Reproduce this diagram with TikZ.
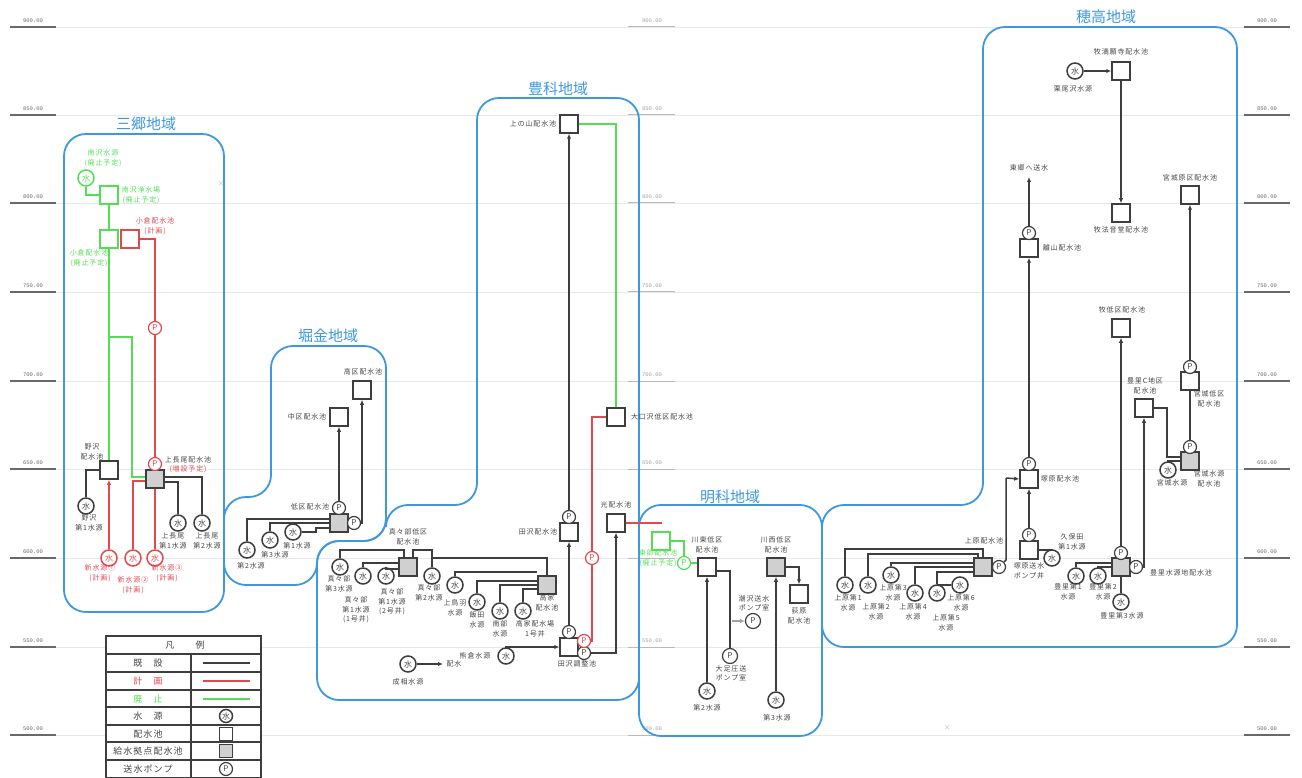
\documentclass[tikz,border=0pt]{standalone}
\usepackage{fontspec}
\usepackage{xcolor}
\usepackage{tikz}
\usetikzlibrary{arrows.meta,calc,positioning}
\newfontfamily\jpfont[LetterSpace=12]{Noto Sans CJK JP}
\newfontfamily\jptitle{Noto Sans CJK JP}
\setmonofont{Liberation Mono}
\definecolor{figInk}{RGB}{62,62,62}
\definecolor{figText}{RGB}{70,70,70}
\definecolor{figRed}{RGB}{226,72,78}
\definecolor{figGreen}{RGB}{84,222,84}
\definecolor{figBlue}{RGB}{62,152,222}
\definecolor{figGrid}{RGB}{232,232,232}
\definecolor{figHubBg}{RGB}{208,208,208}
\definecolor{figRule}{RGB}{105,105,105}

\begin{document}
\begin{tikzpicture}[
  x=1pt,y=-1pt,
  font=\jpfont\fontsize{7}{9.5}\selectfont,
  >={Latex[length=5pt,width=4.5pt]},
  lbl/.style={align=center,inner sep=0pt,text=figText},
  lblred/.style={lbl,text=figRed},
  lblgreen/.style={lbl,text=figGreen},
  regiontitle/.style={inner sep=0pt,font=\jptitle\fontsize{15}{17}\selectfont,text=figBlue},
  region/.style={draw=figBlue,line width=1.8pt,rounded corners=22pt},
  tank/.style={draw=figInk,line width=1.5pt,fill=white,minimum size=18pt,inner sep=0pt,rectangle},
  hubtank/.style={tank,fill=figHubBg},
  srcnode/.style={circle,draw=figInk,line width=1.5pt,fill=white,minimum size=16pt,inner sep=0pt,font=\jptitle\fontsize{8}{8}\selectfont,text=figText},
  pumpnode/.style={circle,draw=figInk,line width=1.2pt,fill=white,minimum size=13pt,inner sep=0pt,font=\jptitle\fontsize{8}{8}\selectfont,text=figText},
  pipe/.style={draw=figInk,fill=figInk,line width=1.5pt},
  flow/.style={pipe,fill=none,->},
  planpipe/.style={draw=figRed,line width=1.6pt},
  oldpipe/.style={draw=figGreen,line width=1.6pt},
  legtext/.style={inner sep=0pt,text=figText,font=\jpfont\fontsize{9}{10}\selectfont}
]
\useasboundingbox (0,0) rectangle (1302,778);

% elevation rules
\foreach \elev/\yy in {900/27,850/115,800/203,750/292,700/381,650/469,600/558,550/647,500/735}{
  \draw[figGrid,line width=0.6pt] (56,\yy) -- (1244,\yy);
  \draw[figRule,line width=1.2pt] (10,\yy) -- (56,\yy);
  \draw[figRule,line width=1.2pt] (1244,\yy) -- (1290,\yy);
  \draw[figGrid!80!black,line width=1pt] (628,\yy) -- (675,\yy);
  \node[inner sep=0pt,font=\ttfamily\fontsize{5.5}{6}\selectfont,text=figRule] (lvlL\elev) at (33,\yy-6.5) {\elev.00};
  \ifnum\elev=600\else
    \node[inner sep=0pt,font=\ttfamily\fontsize{5.5}{6}\selectfont,text=figGrid!70!black] (lvlC\elev) at (652,\yy-6.5) {\elev.00};
  \fi
  \node[inner sep=0pt,font=\ttfamily\fontsize{5.5}{6}\selectfont,text=figRule] (lvlR\elev) at (1267,\yy-6.5) {\elev.00};
}
\node[inner sep=0pt,text=figGrid!80!black] (markA) at (221,184) {×};
\node[inner sep=0pt,text=figGrid!80!black] (markB) at (947,728) {×};

% regions
\draw[region] (64,134) rectangle (224,612);
\draw[region] (224,565) -- (224,497) -- (271,497) -- (271,346) -- (386,346) -- (386,541) -- (317,541) -- (317,585) -- (224,585) -- cycle;
\draw[region] (317,590) -- (317,541) -- (386,541) -- (386,505) -- (477,505) -- (477,98) -- (639,98) -- (639,700) -- (317,700) -- cycle;
\draw[region] (639,505) rectangle (822,736);
\draw[region] (822,590) -- (822,505) -- (983,505) -- (983,27) -- (1237,27) -- (1237,647) -- (822,647) -- cycle;

\node[regiontitle] (titleMisato) at (146,124) {三郷地域};
\node[regiontitle] (titleHorikane) at (328,336) {堀金地域};
\node[regiontitle] (titleToyoshina) at (558,89) {豊科地域};
\node[regiontitle] (titleAkashina) at (730,497) {明科地域};
\node[regiontitle] (titleHotaka) at (1106,17) {穂高地域};

% Misato
\node[srcnode,draw=figGreen,text=figGreen] (srcMinami) at (86,178) {水};
\node[tank,draw=figGreen] (tankMinami) at (109,195) {};
\node[tank,draw=figGreen] (tankOgura) at (109,239) {};
\node[tank,draw=figRed] (tankOguraNew) at (130,239) {};
\node[pumpnode,draw=figRed,text=figRed] (pumpOgura) at (155,328) {P};
\node[tank] (tankNozawa) at (109,470) {};
\node[hubtank] (hubKaminagao) at (155,479) {};
\node[pumpnode,draw=figRed,text=figRed] (pumpKaminagao) at (155,464) {P};
\node[srcnode] (srcNozawa) at (86,506) {水};
\node[srcnode,draw=figRed,text=figRed] (srcNew1) at (109,558) {水};
\node[srcnode,draw=figRed,text=figRed] (srcNew2) at (133,558) {水};
\node[srcnode,draw=figRed,text=figRed] (srcNew3) at (155,558) {水};
\node[srcnode] (srcKami1) at (178,523) {水};
\node[srcnode] (srcKami2) at (202,523) {水};

\node[lblgreen] (lblMinami) at (103,158) {南沢水源\\(廃止予定)};
\node[lblgreen] (lblMinamiPlant) at (141,195) {南沢浄水場\\(廃止予定)};
\node[lblgreen] (lblOgura) at (89,258) {小倉配水池\\(廃止予定)};
\node[lblred] (lblOguraNew) at (155,226) {小倉配水池\\(計画)};
\node[lbl] (lblNozawa) at (92,452) {野沢\\配水池};
\node[lbl] (lblSrcNozawa) at (89,523) {野沢\\第1水源};
\node[lbl] (lblKaminagao) at (188,465) {上長尾配水池\\\textcolor{figRed}{(増設予定)}};
\node[lblred] (lblNew1) at (100,573) {新水源①\\(計画)};
\node[lblred] (lblNew2) at (133,585) {新水源②\\(計画)};
\node[lblred] (lblNew3) at (167,573) {新水源③\\(計画)};
\node[lbl] (lblKami1) at (173,541) {上長尾\\第1水源};
\node[lbl] (lblKami2) at (207,541) {上長尾\\第2水源};

\draw[oldpipe] (srcMinami.south) |- (tankMinami.west);
\draw[oldpipe] (tankMinami) -- (tankOgura);
\draw[oldpipe] (tankOgura) -- (tankNozawa);
\coordinate (ogBranch) at (109,337);
\coordinate (ogCorner) at (132,337);
\draw[oldpipe] (ogBranch) -- (ogCorner) |- ([yshift=2pt]hubKaminagao.west);
\draw[planpipe] (tankOguraNew.east) -| (pumpOgura.north);
\draw[planpipe] (pumpOgura) -- (pumpKaminagao);
\draw[planpipe,->] (srcNew1) -- (tankNozawa);
\draw[planpipe] (srcNew2.north) |- ([yshift=-2pt]hubKaminagao.west);
\draw[planpipe] (srcNew3) -- (hubKaminagao);
\draw[pipe,fill=none] (srcNozawa.north) |- (tankNozawa.west);
\draw[pipe,fill=none] ([yshift=-3pt]hubKaminagao.east) -| (srcKami1.north);
\draw[pipe,fill=none] ([yshift=2pt]hubKaminagao.east) -| (srcKami2.north);

% Horikane
\node[tank] (tankKoku) at (362,390) {};
\node[tank] (tankChuku) at (339,417) {};
\node[hubtank] (hubTeiku) at (339,523) {};
\node[pumpnode] (pumpTeikuA) at (339,508) {P};
\node[pumpnode] (pumpTeikuB) at (354,523) {P};
\node[srcnode] (srcHori1) at (293,532) {水};
\node[srcnode] (srcHori3) at (270,540) {水};
\node[srcnode] (srcHori2) at (247,550) {水};

\node[lbl] (lblKoku) at (363,372) {高区配水池};
\node[lbl] (lblChuku) at (307,417) {中区配水池};
\node[lbl] (lblTeiku) at (310,507) {低区配水池};
\node[lbl] (lblHori1) at (297,546) {第1水源};
\node[lbl] (lblHori3) at (275,555) {第3水源};
\node[lbl] (lblHori2) at (251,566) {第2水源};

\draw[flow] (pumpTeikuA) -- (tankChuku);
\draw[flow] (pumpTeikuB.east) -| (tankKoku.south);
\draw[pipe,fill=none] (srcHori2.north) |- ([yshift=4pt]hubTeiku.west);
\draw[pipe,fill=none] (srcHori3.north) |- (hubTeiku.west);
\coordinate (horiJog) at (316,532);
\draw[pipe,fill=none] (srcHori1.east) -- (horiJog) |- ([yshift=-5pt]hubTeiku.west);

% Toyoshina
\node[hubtank] (hubMamabe) at (408,567) {};
\node[hubtank] (hubTakibe) at (547,585) {};
\node[srcnode] (srcMa3) at (340,567) {水};
\node[srcnode] (srcMa1a) at (363,576) {水};
\node[srcnode] (srcMa1b) at (386,576) {水};
\node[srcnode] (srcMa2) at (432,576) {水};
\node[srcnode] (srcKamitoba) at (455,585) {水};
\node[srcnode] (srcIida) at (477,602) {水};
\node[srcnode] (srcNanbu) at (500,611) {水};
\node[srcnode] (srcTakibe) at (523,611) {水};
\node[srcnode] (srcKumakura) at (506,656) {水};
\node[srcnode] (srcNariai) at (408,664) {水};
\node[tank] (tankChosei) at (569,647) {};
\node[pumpnode] (pumpChoseiA) at (569,632) {P};
\node[pumpnode] (pumpChoseiB) at (584,653) {P};
\node[pumpnode,draw=figRed,text=figRed] (pumpChoseiR) at (584,641) {P};
\node[tank] (tankTazawa) at (569,532) {};
\node[pumpnode] (pumpTazawa) at (569,517) {P};
\node[tank] (tankUenoyama) at (569,124) {};
\node[tank] (tankOguchi) at (616,417) {};
\node[pumpnode,draw=figRed,text=figRed] (pumpOguchi) at (592,558) {P};
\node[tank] (tankHikari) at (616,523) {};
\coordinate (endHaisui) at (443,664);
\coordinate (endHikari) at (662,523);

\node[lbl] (lblMamabe) at (408,537) {真々部低区\\配水池};
\node[lbl] (lblMa3) at (339,584) {真々部\\第3水源};
\node[lbl] (lblMa1a) at (356,610) {真々部\\第1水源\\(1号井)};
\node[lbl] (lblMa1b) at (392,602) {真々部\\第1水源\\(2号井)};
\node[lbl] (lblMa2) at (429,593) {真々部\\第2水源};
\node[lbl] (lblKamitoba) at (455,608) {上鳥羽\\水源};
\node[lbl] (lblIida) at (477,620) {飯田\\水源};
\node[lbl] (lblNanbu) at (500,629) {南部\\水源};
\node[lbl] (lblSrcTakibe) at (535,629) {高家配水場\\1号井};
\node[lbl] (lblTakibe) at (547,603) {高家\\配水池};
\node[lbl] (lblChosei) at (577,664) {田沢調整池};
\node[lbl] (lblKumakura) at (475,656) {熊倉水源};
\node[lbl] (lblNariai) at (408,682) {成相水源};
\node[lbl] (lblHaisui) at (454,664) {配水};
\node[lbl] (lblTazawa) at (538,532) {田沢配水池};
\node[lbl] (lblUenoyama) at (533,124) {上の山配水池};
\node[lbl] (lblOguchi) at (662,417) {大口沢低区配水池};
\node[lbl] (lblHikari) at (616,505) {光配水池};

\coordinate (maJoinL) at (404,550);
\coordinate (maJoinR) at (413,550);
\coordinate (maTee) at (432,558);
\draw[pipe,fill=none] (srcMa3.north) |- (maJoinL) -- (maJoinL |- hubMamabe.north);
\draw[pipe,fill=none] (srcMa2.north) |- (maJoinR) -- (maJoinR |- hubMamabe.north);
\draw[pipe,fill=none] (srcMa1a.north) |- ([yshift=4pt]hubMamabe.west);
\draw[pipe,fill=none] (srcMa1b.north) |- ([yshift=-2pt]hubMamabe.west);
\draw[pipe,fill=none] (maTee) -| (hubTakibe.north);
\draw[pipe,fill=none] (srcKamitoba.north) |- ([yshift=13pt]hubTakibe.west);
\draw[pipe,fill=none] (srcIida.north) |- ([yshift=4pt]hubTakibe.west);
\draw[pipe,fill=none] (srcNanbu.north) |- (hubTakibe.west);
\draw[pipe,fill=none] (srcTakibe.north) |- ([yshift=-4pt]hubTakibe.west);
\draw[flow] (srcKumakura.north) |- (tankChosei.west);
\draw[flow] (srcNariai) -- (endHaisui);
\draw[flow] (pumpChoseiA) -- (tankTazawa);
\draw[flow] (pumpTazawa) -- (tankUenoyama);
\draw[oldpipe] (tankUenoyama.east) -| (tankOguchi.north);
\draw[planpipe] (pumpChoseiR.east) -| (pumpOguchi.south);
\draw[planpipe] (pumpOguchi.north) |- (tankOguchi.west);
\draw[flow] (pumpChoseiB.east) -| (tankHikari.south);
\draw[planpipe] (tankHikari.east) -- (endHikari);

% Akashina
\node[tank,draw=figGreen] (tankOldAka) at (661,541) {};
\node[pumpnode,draw=figGreen,text=figGreen] (pumpOldAka) at (684,563) {P};
\node[tank] (tankKawahigashi) at (707,567) {};
\node[hubtank] (hubKawanishi) at (776,567) {};
\node[tank] (tankOgiwara) at (799,594) {};
\node[srcnode] (srcAka2) at (707,691) {水};
\node[srcnode] (srcAka3) at (776,700) {水};
\node[pumpnode,minimum size=15pt] (pumpOashi) at (730,656) {P};
\node[pumpnode,minimum size=15pt] (pumpShiosawa) at (753,621) {P};
\coordinate (startShiosawa) at (732,621);

\node[lblgreen] (lblOldAka) at (658,558) {東部配水池\\(廃止予定)};
\node[lbl] (lblKawahigashi) at (707,545) {川東低区\\配水池};
\node[lbl] (lblKawanishi) at (776,545) {川西低区\\配水池};
\node[lbl] (lblOgiwara) at (799,616) {荻原\\配水池};
\node[lbl] (lblAka2) at (707,708) {第2水源};
\node[lbl] (lblAka3) at (777,718) {第3水源};
\node[lbl] (lblOashi) at (731,673) {大足圧送\\ポンプ室};
\node[lbl] (lblShiosawa) at (754,603) {潮沢送水\\ポンプ室};

\draw[oldpipe] (tankOldAka.east) -| (pumpOldAka.north);
\draw[oldpipe] (pumpOldAka.east) -- (pumpOldAka.east -| tankKawahigashi.west);
\draw[flow] (srcAka2) -- (tankKawahigashi);
\draw[flow] (srcAka3) -- (hubKawanishi);
\draw[pipe,fill=none] ([yshift=-4pt]tankKawahigashi.east) -| (pumpOashi.north);
\draw[figGrid!70!black,line width=1.2pt,->] (startShiosawa) -- (pumpShiosawa);
\draw[flow] (hubKawanishi.east) -| (tankOgiwara.north);

% Hotaka
\node[hubtank] (hubUehara) at (983,567) {};
\node[pumpnode] (pumpUehara) at (999,567) {P};
\node[srcnode] (srcUe1) at (845,585) {水};
\node[srcnode] (srcUe2) at (868,585) {水};
\node[srcnode] (srcUe3) at (891,575) {水};
\node[srcnode] (srcUe4) at (915,593) {水};
\node[srcnode] (srcUe5) at (937,593) {水};
\node[srcnode] (srcUe6) at (960,585) {水};
\node[tank] (tankTsukaPump) at (1029,550) {};
\node[pumpnode] (pumpTsukaPump) at (1029,535) {P};
\node[srcnode] (srcKubota) at (1052,558) {水};
\node[tank] (tankTsukahara) at (1029,479) {};
\node[pumpnode] (pumpTsukahara) at (1029,464) {P};
\node[tank] (tankHanare) at (1029,248) {};
\node[pumpnode] (pumpHanare) at (1029,233) {P};
\coordinate (endKurogo) at (1029,177);
\node[tank] (tankManganji) at (1121,71) {};
\node[srcnode] (srcKurio) at (1075,71) {水};
\node[tank] (tankHoondo) at (1121,213) {};
\node[tank] (tankMakiTei) at (1121,328) {};
\node[hubtank] (hubToyosato) at (1121,567) {};
\node[pumpnode] (pumpToyoA) at (1121,553) {P};
\node[pumpnode] (pumpToyoB) at (1136,567) {P};
\node[srcnode] (srcToyo1) at (1076,576) {水};
\node[srcnode] (srcToyo2) at (1098,576) {水};
\node[srcnode] (srcToyo3) at (1121,602) {水};
\node[tank] (tankToyoC) at (1144,408) {};
\node[hubtank] (hubMiyagi) at (1190,461) {};
\node[pumpnode] (pumpMiyagi) at (1190,447) {P};
\node[srcnode] (srcMiyagi) at (1168,470) {水};
\node[tank] (tankMiyagiTei) at (1190,381) {};
\node[pumpnode] (pumpMiyagiTei) at (1190,367) {P};
\node[tank] (tankMiyagiKo) at (1190,195) {};

\node[lbl] (lblUehara) at (984,541) {上原配水池};
\node[lbl] (lblUe1) at (848,603) {上原第1\\水源};
\node[lbl] (lblUe2) at (876,612) {上原第2\\水源};
\node[lbl] (lblUe3) at (893,593) {上原第3\\水源};
\node[lbl] (lblUe4) at (913,612) {上原第4\\水源};
\node[lbl] (lblUe5) at (946,623) {上原第5\\水源};
\node[lbl] (lblUe6) at (961,603) {上原第6\\水源};
\node[lbl] (lblTsukaPump) at (1029,571) {塚原送水\\ポンプ井};
\node[lbl] (lblKubota) at (1072,542) {久保田\\第1水源};
\node[lbl] (lblTsukahara) at (1060,479) {塚原配水池};
\node[lbl] (lblHanare) at (1062,248) {離山配水池};
\node[lbl] (lblKurogo) at (1029,168) {東郷へ送水};
\node[lbl] (lblManganji) at (1121,52) {牧満願寺配水池};
\node[lbl] (lblKurio) at (1073,89) {栗尾沢水源};
\node[lbl] (lblHoondo) at (1121,230) {牧法音堂配水池};
\node[lbl] (lblMakiTei) at (1122,310) {牧低区配水池};
\node[lbl] (lblToyosato) at (1181,573) {豊里水源地配水池};
\node[lbl] (lblToyo1) at (1068,592) {豊里第1\\水源};
\node[lbl] (lblToyo2) at (1103,592) {豊里第2\\水源};
\node[lbl] (lblToyo3) at (1122,616) {豊里第3水源};
\node[lbl] (lblToyoC) at (1145,386) {豊里C地区\\配水池};
\node[lbl] (lblMiyagiTei) at (1209,399) {宮城低区\\配水池};
\node[lbl] (lblMiyagiHub) at (1209,479) {宮城水源\\配水池};
\node[lbl] (lblSrcMiyagi) at (1172,483) {宮城水源};
\node[lbl] (lblMiyagiKo) at (1190,178) {宮城原区配水池};

\coordinate (ueJoinA) at (983,549);
\coordinate (ueJoinB) at (978,554);
\coordinate (ueCorner) at (1006,478);
\coordinate (ueTop) at (1006,560);
\draw[pipe,fill=none] (srcUe1.north) |- (ueJoinA) -- (hubUehara.north);
\draw[pipe,fill=none] (srcUe2.north) |- (ueJoinB) -- (ueJoinB |- hubUehara.north);
\draw[pipe,fill=none] (srcUe3.north) |- ([yshift=4pt]hubUehara.west);
\draw[pipe,fill=none] (srcUe4.north) |- (hubUehara.west);
\draw[pipe,fill=none] (srcUe5.north) |- ([yshift=-5pt]hubUehara.west);
\draw[pipe,fill=none] (srcUe6.west) -- (srcUe6.west -| srcUe5.north);
\draw[pipe,fill=none] (pumpUehara.north east) -- (ueTop) -- (ueCorner);
\draw[flow] (ueCorner) -- (tankTsukahara.west);
\draw[flow] (pumpTsukaPump) -- (tankTsukahara);
\draw[pipe,fill=none] (srcKubota.north) |- (tankTsukaPump.east);
\draw[flow] (pumpTsukahara) -- (tankHanare);
\draw[flow] (pumpHanare) -- (endKurogo);
\draw[flow] (srcKurio) -- (tankManganji);
\draw[flow] (tankManganji) -- (tankHoondo);
\draw[flow] (pumpToyoA) -- (tankMakiTei);
\draw[pipe,fill=none] (srcToyo1.north) |- ([yshift=4pt]hubToyosato.west);
\draw[pipe,fill=none] (srcToyo2.north) |- (hubToyosato.west);
\draw[pipe,fill=none] (srcToyo3) -- (hubToyosato);
\draw[flow] (pumpToyoB.east) -| (tankToyoC.south);
\coordinate (toyoCDown) at (1167,408);
\draw[pipe,fill=none] (tankToyoC.east) -- (toyoCDown) |- ([yshift=4pt]hubMiyagi.west);
\draw[pipe,fill=none] (srcMiyagi.north) |- (hubMiyagi.west);
\draw[pipe,fill=none] (pumpMiyagi) -- (tankMiyagiTei);
\draw[flow] (pumpMiyagiTei) -- (tankMiyagiKo);

% legend
\draw[figInk,line width=1.4pt,fill=white] (106,636) rectangle (261,777.5);
\foreach \yy in {654,672,690,707,725,742,760}{
  \draw[figInk,line width=1.4pt] (106,\yy) -- (261,\yy);
}
\draw[figInk,line width=1.4pt] (191,654) -- (191,777.5);
\node[legtext] (legHead) at (185,645) {凡　　例};
\node[legtext] (legOld) at (148,663) {既　設};
\node[legtext,text=figRed] (legPlan) at (148,681) {計　画};
\node[legtext,text=figGreen] (legStop) at (148,699) {廃　止};
\node[legtext] (legSrc) at (148,716) {水　源};
\node[legtext] (legTank) at (148,734) {配水池};
\node[legtext] (legHub) at (148,751) {給水拠点配水池};
\node[legtext] (legPump) at (148,769) {送水ポンプ};
\coordinate (legLineA) at (203,663);
\coordinate (legLineB) at (250,663);
\draw[pipe,fill=none] (legLineA) -- (legLineB);
\draw[planpipe] ($(legLineA)+(0,18)$) -- ($(legLineB)+(0,18)$);
\draw[oldpipe] ($(legLineA)+(0,36)$) -- ($(legLineB)+(0,36)$);
\node[srcnode,minimum size=13pt] (legSrcMark) at (226,716) {水};
\node[tank,minimum size=13pt] (legTankMark) at (226,734) {};
\node[hubtank,minimum size=13pt] (legHubMark) at (226,751) {};
\node[pumpnode,minimum size=13pt] (legPumpMark) at (226,769) {P};

\end{tikzpicture}
\end{document}
